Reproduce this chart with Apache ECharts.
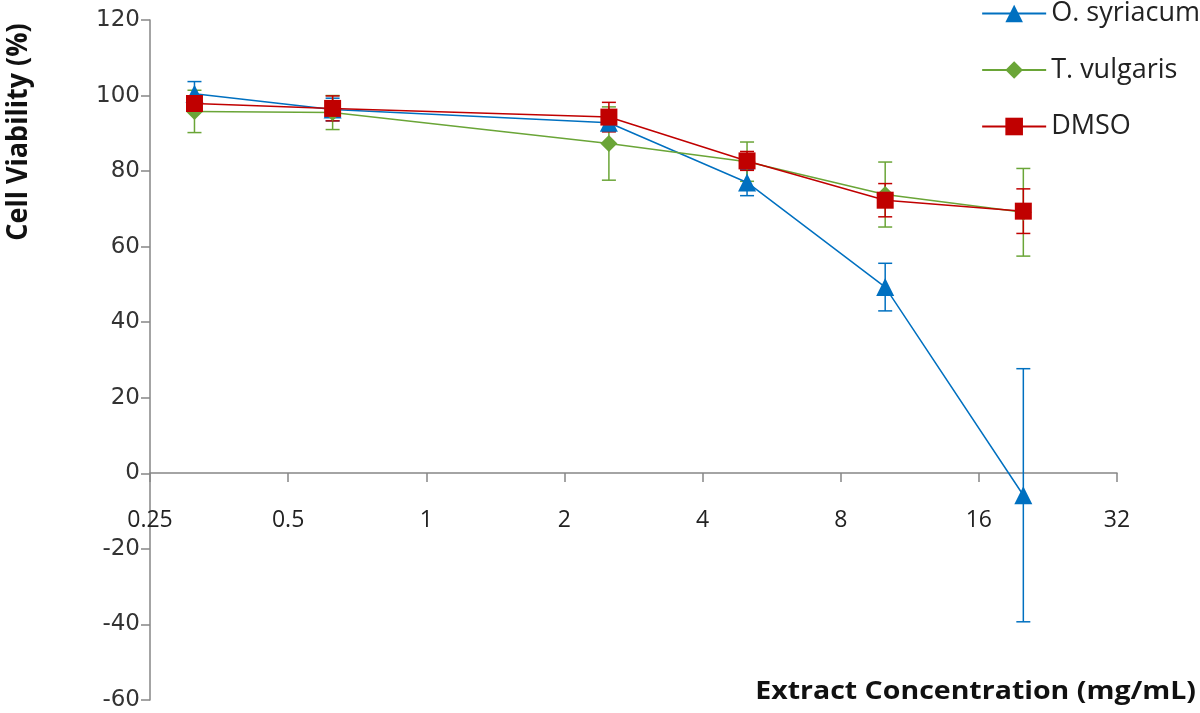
<!DOCTYPE html>
<html>
<head>
<meta charset="utf-8">
<script src="https://cdn.jsdelivr.net/npm/echarts@6/dist/echarts.min.js"></script>
<style>
  html, body { margin: 0; padding: 0; background: #fff; }
  #chart { width: 1200px; height: 713px; }
</style>
</head>
<body>
<div id="chart"></div>
<script>
  // concentrations (mg/mL) and viability (%)
  var concentrations = [0.3125, 0.625, 2.5, 5, 10, 20];
  var syriacumMean = [100.5, 96.3, 92.8, 77, 49.3, -5.8];
  var syriacumErr = [3.2, 3, 2.3, 3.5, 6.3, 33.5];
  var vulgarisMean = [95.8, 95.5, 87.3, 82.5, 73.8, 69.1];
  var vulgarisErr = [5.6, 4.5, 9.7, 5.2, 8.6, 11.6];
  var dmsoMean = [97.9, 96.6, 94.3, 82.7, 72.3, 69.4];
  var dmsoErr = [2, 3.3, 3.9, 2.5, 4.4, 5.9];
  var xTickLabels = ['0.25', '0.5', '1', '2', '4', '8', '16', '32'];
  var yTicks = [-60, -40, -20, 0, 20, 40, 60, 80, 100, 120];

  var blue = '#0070C0', green = '#6AA537', red = '#C00000';

  function lineData(means) {
    return concentrations.map(function (c, i) { return [c, means[i]]; });
  }
  function errData(means, errs) {
    return concentrations.map(function (c, i) { return [c, means[i] - errs[i], means[i] + errs[i]]; });
  }
  function errBars(color) {
    return function (params, api) {
      var x = api.value(0);
      var top = api.coord([x, api.value(2)]);
      var bot = api.coord([x, api.value(1)]);
      var w = 7;
      var st = { stroke: color, lineWidth: 1.5 };
      return {
        type: 'group',
        children: [
          { type: 'line', shape: { x1: top[0], y1: top[1], x2: bot[0], y2: bot[1] }, style: st },
          { type: 'line', shape: { x1: top[0] - w, y1: top[1], x2: top[0] + w, y2: top[1] }, style: st },
          { type: 'line', shape: { x1: bot[0] - w, y1: bot[1], x2: bot[0] + w, y2: bot[1] }, style: st }
        ]
      };
    };
  }

  var chart = echarts.init(document.getElementById('chart'));
  chart.setOption({
    animation: false,
    grid: { left: 150, right: 83, top: 20, bottom: 13, outerBoundsMode: 'none' },
    legend: {
      orient: 'vertical',
      right: 0,
      top: 0,
      padding: 0,
      itemWidth: 64,
      itemHeight: 22,
      itemGap: 29.5,
      textStyle: { fontFamily: 'Open Sans', fontSize: 27, color: '#222' },
      data: ['O. syriacum', 'T. vulgaris', 'DMSO']
    },
    xAxis: {
      type: 'log',
      logBase: 2,
      min: 0.25,
      max: 32,
      interval: 1,
      position: 'bottom',
      offset: -227,   // x axis crosses the value axis at 0
      axisLine: { onZero: false, lineStyle: { color: '#868686', width: 1.5 } },
      axisTick: { show: true, length: 9, lineStyle: { color: '#868686', width: 1.5 } },
      axisLabel: {
        show: true,
        showMinLabel: true,
        showMaxLabel: true,
        hideOverlap: false,
        margin: 36,
        fontFamily: 'Open Sans',
        fontSize: 23,
        color: '#222',
        formatter: function (v) {
          var n = Number(v);
          var k = Math.round(Math.log(n) / Math.LN2) + 2;
          return xTickLabels[k] !== undefined ? xTickLabels[k] : String(v);
        }
      },
      splitLine: { show: false }
    },
    yAxis: {
      type: 'value',
      min: -60,
      max: 120,
      interval: 20,
      axisLine: { show: true, onZero: false, lineStyle: { color: '#868686', width: 1.5 } },
      axisTick: { show: true, length: 9, lineStyle: { color: '#868686', width: 1.5 } },
      axisLabel: {
        margin: 10,
        fontFamily: 'DejaVu Sans',
        fontSize: 23,
        color: '#333',
        formatter: function (v) { return yTicks.indexOf(v) >= 0 ? String(v) : ''; }
      },
      splitLine: { show: false }
    },
    graphic: [
      {
        type: 'text', x: 5, y: 132, rotation: Math.PI / 2, scaleY: 1.05,
        style: {
          text: 'Cell Viability (%)', fontFamily: 'Open Sans', fontWeight: 'bold', fontSize: 27,
          fill: '#111', align: 'center', verticalAlign: 'top'
        }
      },
      {
        type: 'text', x: 1196, y: 692, scaleX: 1.14,
        style: {
          text: 'Extract Concentration (mg/mL)', fontFamily: 'Open Sans', fontWeight: 'bold', fontSize: 25,
          fill: '#111', align: 'right', verticalAlign: 'middle'
        }
      }
    ],
    series: [
      { type: 'custom', name: 'O. syriacum err', renderItem: errBars(blue), data: errData(syriacumMean, syriacumErr), encode: { x: 0, y: [1, 2] }, z: 1, silent: true },
      { type: 'custom', name: 'T. vulgaris err', renderItem: errBars(green), data: errData(vulgarisMean, vulgarisErr), encode: { x: 0, y: [1, 2] }, z: 1, silent: true },
      { type: 'custom', name: 'DMSO err', renderItem: errBars(red), data: errData(dmsoMean, dmsoErr), encode: { x: 0, y: [1, 2] }, z: 1, silent: true },
      {
        type: 'line', name: 'O. syriacum', data: lineData(syriacumMean), z: 3,
        symbol: 'triangle', symbolSize: 18,
        lineStyle: { color: blue, width: 1.5 }, itemStyle: { color: blue }
      },
      {
        type: 'line', name: 'T. vulgaris', data: lineData(vulgarisMean), z: 4,
        symbol: 'diamond', symbolSize: 17,
        lineStyle: { color: green, width: 1.5 }, itemStyle: { color: green }
      },
      {
        type: 'line', name: 'DMSO', data: lineData(dmsoMean), z: 5,
        symbol: 'rect', symbolSize: 17,
        lineStyle: { color: red, width: 1.5 }, itemStyle: { color: red }
      }
    ]
  });
</script>
</body>
</html>
